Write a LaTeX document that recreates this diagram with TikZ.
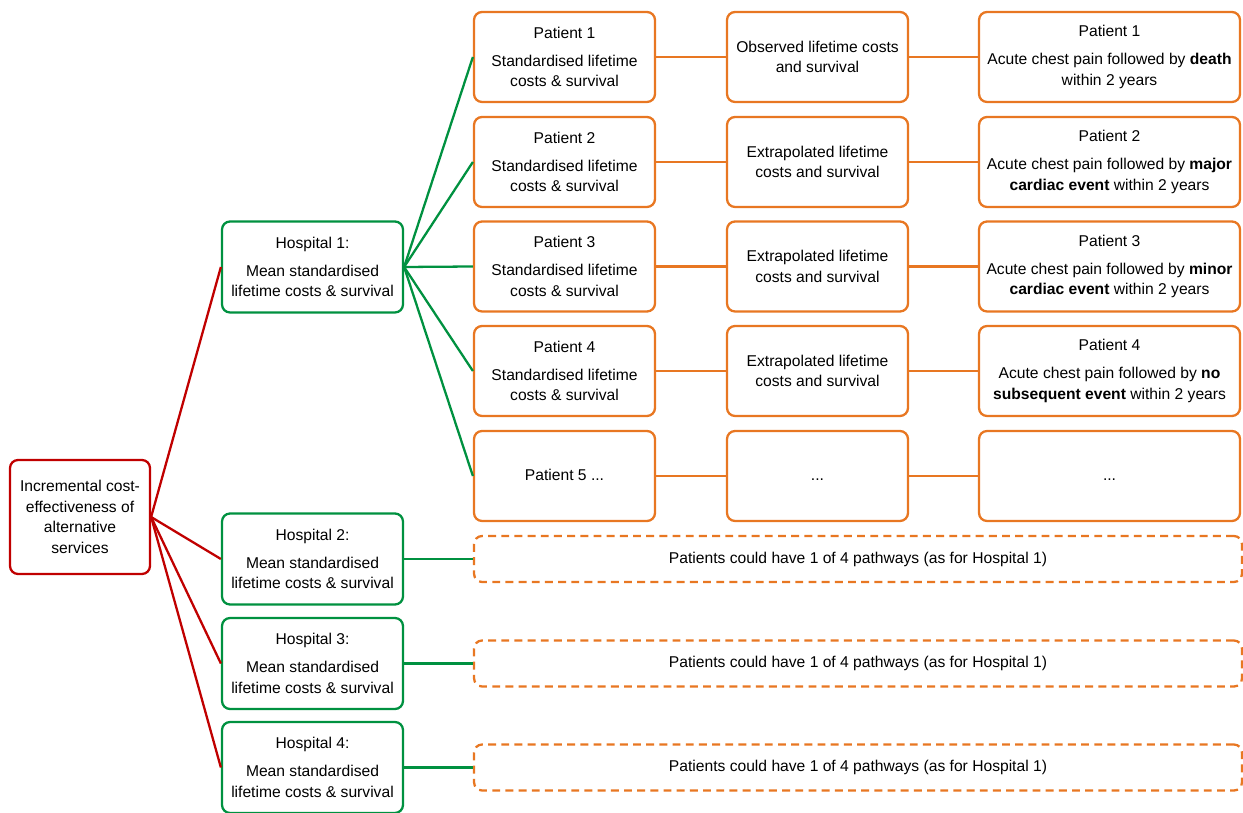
\documentclass[tikz,border=0pt]{standalone}
\usepackage{fontspec}
\setmainfont{Liberation Sans}
\usetikzlibrary{positioning}
\definecolor{svcred}{RGB}{192,0,0}
\definecolor{hospgreen}{RGB}{0,145,64}
\definecolor{patorange}{RGB}{232,119,34}

\begin{document}
\begin{tikzpicture}[x=0.02cm, y=-0.02cm,
    box/.style={rectangle, rounded corners=0.16cm, line width=1.3pt, align=center, inner sep=2pt, fill=white, font=\fontsize{8.9}{11.8}\selectfont},
    service/.style={box, draw=svcred, minimum width=2.8cm, minimum height=2.28cm},
    hospital/.style={box, draw=hospgreen, minimum width=3.62cm, minimum height=1.82cm},
    patient/.style={box, draw=patorange, minimum width=3.62cm, minimum height=1.8cm},
    outcome/.style={patient, minimum width=5.22cm},
    pathways/.style={box, draw=patorange, dash pattern=on 4.5pt off 3pt, minimum width=15.36cm, minimum height=0.92cm},
    link/.style={line width=1.3pt}
]
    \useasboundingbox (0,0) rectangle (1243,813);

    % Overall comparison
    \node[service] (svc) at (80,517) {Incremental cost-\\effectiveness of\\alternative\\services};

    % Hospitals
    \node[hospital] (hosp1) at (312.5,267) {Hospital 1:\\[4pt]Mean standardised\\lifetime costs \& survival};
    \node[hospital] (hosp2) at (312.5,559) {Hospital 2:\\[4pt]Mean standardised\\lifetime costs \& survival};
    \node[hospital] (hosp3) at (312.5,663.5) {Hospital 3:\\[4pt]Mean standardised\\lifetime costs \& survival};
    \node[hospital] (hosp4) at (312.5,767.5) {Hospital 4:\\[4pt]Mean standardised\\lifetime costs \& survival};

    % Patients of hospital 1
    \node[patient] (pat1) at (564.5,57) {Patient 1\\[4pt]Standardised lifetime\\costs \& survival};
    \node[patient] (pat2) at (564.5,162) {Patient 2\\[4pt]Standardised lifetime\\costs \& survival};
    \node[patient] (pat3) at (564.5,266.5) {Patient 3\\[4pt]Standardised lifetime\\costs \& survival};
    \node[patient] (pat4) at (564.5,371) {Patient 4\\[4pt]Standardised lifetime\\costs \& survival};
    \node[patient] (pat5) at (564.5,476) {\strut Patient 5 ...};

    % Lifetime costs
    \node[patient] (cost1) at (817.5,57) {Observed lifetime costs\\and survival};
    \node[patient] (cost2) at (817.5,162) {Extrapolated lifetime\\costs and survival};
    \node[patient] (cost3) at (817.5,266.5) {Extrapolated lifetime\\costs and survival};
    \node[patient] (cost4) at (817.5,371) {Extrapolated lifetime\\costs and survival};
    \node[patient] (cost5) at (817.5,476) {\strut...};

    % Pathways
    \node[outcome] (out1) at (1109.5,57) {Patient 1\\[4pt]Acute chest pain followed by \textbf{death}\\within 2 years};
    \node[outcome] (out2) at (1109.5,162) {Patient 2\\[4pt]Acute chest pain followed by \textbf{major}\\\textbf{cardiac event} within 2 years};
    \node[outcome] (out3) at (1109.5,266.5) {Patient 3\\[4pt]Acute chest pain followed by \textbf{minor}\\\textbf{cardiac event} within 2 years};
    \node[outcome] (out4) at (1109.5,371) {Patient 4\\[4pt]Acute chest pain followed by \textbf{no}\\\textbf{subsequent event} within 2 years};
    \node[outcome] (out5) at (1109.5,476) {\strut...};

    % Other hospitals
    \node[pathways] (rest2) at (858,559) {Patients could have 1 of 4 pathways (as for Hospital 1)};
    \node[pathways] (rest3) at (858,663.5) {Patients could have 1 of 4 pathways (as for Hospital 1)};
    \node[pathways] (rest4) at (858,767.5) {Patients could have 1 of 4 pathways (as for Hospital 1)};

    % Red links
    \draw[link, svcred] (svc.east) -- (hosp1.west);
    \draw[link, svcred] (svc.east) -- (hosp2.west);
    \draw[link, svcred] (svc.east) -- (hosp3.west);
    \draw[link, svcred] (svc.east) -- (hosp4.west);

    % Green links
    \draw[link, hospgreen] (hosp1.east) -- (pat1.west);
    \draw[link, hospgreen] (hosp1.east) -- (pat2.west);
    \draw[link, hospgreen] (hosp1.east) -- (pat3.west);
    \draw[link, hospgreen] (hosp1.east) -- (pat4.west);
    \draw[link, hospgreen] (hosp1.east) -- (pat5.west);
    \draw[link, hospgreen] (hosp2.east) -- (rest2.west);
    \draw[link, hospgreen] (hosp3.east) -- (rest3.west);
    \draw[link, hospgreen] (hosp4.east) -- (rest4.west);

    % Orange links
    \draw[link, patorange] (pat1.east) -- (cost1.west);
    \draw[link, patorange] (pat2.east) -- (cost2.west);
    \draw[link, patorange] (pat3.east) -- (cost3.west);
    \draw[link, patorange] (pat4.east) -- (cost4.west);
    \draw[link, patorange] (pat5.east) -- (cost5.west);
    \draw[link, patorange] (cost1.east) -- (out1.west);
    \draw[link, patorange] (cost2.east) -- (out2.west);
    \draw[link, patorange] (cost3.east) -- (out3.west);
    \draw[link, patorange] (cost4.east) -- (out4.west);
    \draw[link, patorange] (cost5.east) -- (out5.west);
\end{tikzpicture}
\end{document}
